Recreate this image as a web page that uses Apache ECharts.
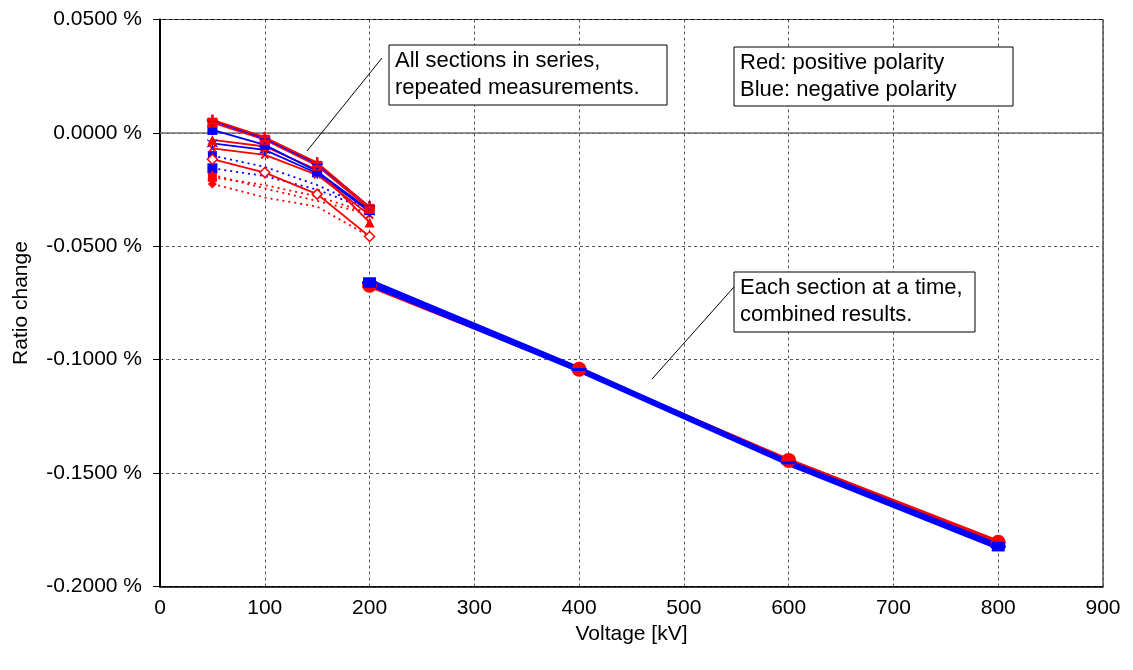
<!DOCTYPE html>
<html>
<head>
<meta charset="utf-8">
<script src="https://cdn.jsdelivr.net/npm/echarts@6/dist/echarts.min.js"></script>
<style>
html,body{margin:0;padding:0;background:#fff;}
#chart{width:1133px;height:670px;}
</style>
</head>
<body>
<div id="chart"></div>
<script>
// ---------- data ----------
const kvSeries = [50, 100, 150, 200];          // all sections in series
const kvSection = [200, 400, 600, 800];        // each section at a time

// solid lines, repeated measurements (values in %)
const posPlus     = [0.0057, -0.0019, -0.0131, -0.0328];
const negPlus     = [0.0054, -0.0024, -0.0137, -0.0325];
const posSquare   = [0.0045, -0.0030, -0.0145, -0.0335];
const negSquare   = [0.0013, -0.0053, -0.0170, -0.0340];
const posTriangle = [-0.0031, -0.0060, -0.0163, -0.0395];
const negStar     = [-0.0046, -0.0075, -0.0178, -0.0347];
const posCross    = [-0.0068, -0.0097, -0.0185, -0.0362];
const posDiamond  = [-0.0116, -0.0175, -0.0270, -0.0457];

// dotted lines, repeated measurements (values in %)
const negDotted1 = [-0.0100, -0.0150, -0.0230, -0.0335];
const negDotted2 = [-0.0156, -0.0190, -0.0250, -0.0340];
const posDotted1 = [-0.0196, -0.0230, -0.0280, -0.0354];
const posDotted2 = [-0.0185, -0.0245, -0.0300, -0.0360];
const posDotted3 = [-0.0225, -0.0285, -0.0325, -0.0457];

// combined results, each section at a time (values in %)
const posCombined1 = [-0.0672, -0.1042, -0.1444, -0.1805];
const posCombined2 = [-0.0677, -0.1046, -0.1441, -0.1800];
const negCombined1 = [-0.0652, -0.1038, -0.1450, -0.1818];
const negCombined2 = [-0.0660, -0.1043, -0.1455, -0.1824];
const negCombined3 = [-0.0668, -0.1048, -0.1460, -0.1830];

const annotationSeries  = ['All sections in series,', 'repeated measurements.'];
const annotationLegend  = ['Red: positive polarity', 'Blue: negative polarity'];
const annotationSection = ['Each section at a time,', 'combined results.'];

// ---------- styles ----------
const RED = '#ff0000', BLUE = '#0000ff';
const FONT = '"Liberation Sans", Arial, sans-serif';
const SYM_PLUS = 'path://M4,0H6V4H10V6H6V10H4V6H0V4H4Z';
const SYM_STAR = 'path://M4.4,0H5.6V10H4.4Z M0.3,2.2L0.9,1.2L9.7,7.8L9.1,8.8Z M0.3,7.8L9.1,1.2L9.7,2.2L0.9,8.8Z';

function pairs(xs, ys) { return xs.map((x, i) => [x, ys[i]]); }

function solid(name, vals, color, symbol, size, opts) {
  opts = opts || {};
  return {
    name: name, type: 'line', data: pairs(kvSeries, vals),
    symbol: symbol, symbolSize: size, symbolRotate: opts.rotate || 0,
    showAllSymbol: true,
    lineStyle: { color: color, width: 1.8 },
    itemStyle: { color: opts.hollow ? '#fff' : color, borderColor: color, borderWidth: opts.hollow ? 1.5 : 0 },
    z: 5, silent: true
  };
}
function dotted(name, vals, color, symbol, size) {
  const d = pairs(kvSeries, vals).map((p, i) => (i === 0 ? { value: p } : { value: p, symbol: 'none' }));
  return {
    name: name, type: 'line', data: d,
    symbol: symbol, symbolSize: size,
    lineStyle: { color: color, width: 1.8, type: [2, 4] },
    itemStyle: { color: color },
    z: 4, silent: true
  };
}
function combinedLine(name, vals, color, width, z) {
  return {
    name: name, type: 'line', data: pairs(kvSection, vals),
    symbol: 'none',
    lineStyle: { color: color, width: width },
    z: z, silent: true
  };
}
function combinedMarks(name, vals, color, symbol, size, z, onlyEnds) {
  let d = pairs(kvSection, vals);
  if (onlyEnds) d = d.filter((p, i) => i === 0 || i === d.length - 1);
  return {
    name: name + ' marks', type: 'scatter', data: d,
    symbol: symbol, symbolSize: size,
    itemStyle: { color: color, opacity: 1 },
    z: z, silent: true
  };
}

const series = [
  dotted('neg dotted 1', negDotted1, BLUE, 'rect', 9),
  dotted('neg dotted 2', negDotted2, BLUE, 'rect', 10),
  dotted('pos dotted 1', posDotted1, RED, 'rect', 9),
  dotted('pos dotted 2', posDotted2, RED, 'triangle', 10),
  dotted('pos dotted 3', posDotted3, RED, 'diamond', 9),
  solid('pos diamond', posDiamond, RED, 'diamond', 10, { hollow: true }),
  solid('pos cross', posCross, RED, SYM_PLUS, 10, { rotate: 45 }),
  solid('neg star', negStar, BLUE, SYM_STAR, 11),
  solid('pos triangle', posTriangle, RED, 'triangle', 10),
  solid('neg square', negSquare, BLUE, 'rect', 10),
  solid('pos square', posSquare, RED, 'rect', 10),
  solid('neg plus', negPlus, BLUE, SYM_PLUS, 11),
  solid('pos plus', posPlus, RED, SYM_PLUS, 11),
  combinedLine('pos combined 1', posCombined1, RED, 3, 6),
  combinedLine('pos combined 2', posCombined2, RED, 3, 6),
  combinedLine('neg combined 1', negCombined1, BLUE, 4, 7),
  combinedLine('neg combined 2', negCombined2, BLUE, 4, 7),
  combinedLine('neg combined 3', negCombined3, BLUE, 4, 7),
  combinedMarks('pos combined 1', posCombined1, RED, 'circle', 15, 8, false),
  combinedMarks('neg combined 1', negCombined1, BLUE, 'rect', [13, 7], 9, true),
  combinedMarks('neg combined 3', negCombined3, BLUE, 'rect', [13, 7], 9, true),
  combinedMarks('neg combined 2', negCombined2, BLUE, 'rect', [15, 3], 9, false)
];
// solid zero line
series[0].markLine = {
  silent: true, symbol: 'none', label: { show: false },
  lineStyle: { color: '#6e6e6e', type: 'solid', width: 1.5 },
  data: [{ yAxis: 0 }]
};

function fmtPct(v) {
  if (Math.abs(v) < 1e-9) v = 0;
  return v.toFixed(4) + ' %';
}

const chart = echarts.init(document.getElementById('chart'), null, { renderer: 'canvas' });

function box(x, y, w, h, lines) {
  return [
    { type: 'rect', shape: { x: x, y: y, width: w, height: h }, style: { fill: '#fff', stroke: '#000', lineWidth: 1 }, z: 100 },
    { type: 'text', x: x + 6, y: y + 2, style: { text: lines.join('\n'), font: '22px ' + FONT, fill: '#000', lineHeight: 27, textVerticalAlign: 'top' }, z: 101 }
  ];
}

const option = {
  animation: false,
  backgroundColor: '#fff',
  textStyle: { fontFamily: FONT },
  grid: { left: 160, right: 30, top: 19.5, bottom: 83.5, show: true, borderColor: '#000', borderWidth: 1, containLabel: false },
  xAxis: {
    type: 'value', min: 0, max: 900, interval: 100,
    name: 'Voltage [kV]', nameLocation: 'middle', nameGap: 37,
    nameTextStyle: { fontSize: 21, color: '#000', fontFamily: FONT },
    axisLine: { show: true, onZero: false, lineStyle: { color: '#000', width: 1.5 } },
    axisTick: { show: false },
    axisLabel: { fontSize: 21, color: '#000', margin: 11, fontFamily: FONT },
    splitLine: { show: true, lineStyle: { color: '#555', type: [3, 3], width: 1 } }
  },
  yAxis: {
    type: 'value', min: -0.2, max: 0.05, interval: 0.05,
    name: 'Ratio change', nameLocation: 'middle', nameGap: 128,
    nameTextStyle: { fontSize: 21, color: '#000', fontFamily: FONT },
    axisLine: { show: true, onZero: false, lineStyle: { color: '#000', width: 2 } },
    axisTick: { show: true, length: 7, lineStyle: { color: '#000' } },
    axisLabel: { fontSize: 21, color: '#000', margin: 18, fontFamily: FONT, formatter: fmtPct },
    splitLine: { show: true, lineStyle: { color: '#555', type: [3, 3], width: 1 } }
  },
  series: series,
  graphic: [
    { type: 'line', shape: { x1: 382, y1: 58, x2: 307, y2: 151 }, style: { stroke: '#000', lineWidth: 1 }, z: 100 },
    { type: 'line', shape: { x1: 734, y1: 287, x2: 652, y2: 379 }, style: { stroke: '#000', lineWidth: 1 }, z: 100 }
  ].concat(box(389, 45, 278, 60, annotationSeries))
   .concat(box(734, 47, 279, 59, annotationLegend))
   .concat(box(734, 272, 241, 60, annotationSection))
};
chart.setOption(option);
</script>
</body>
</html>
